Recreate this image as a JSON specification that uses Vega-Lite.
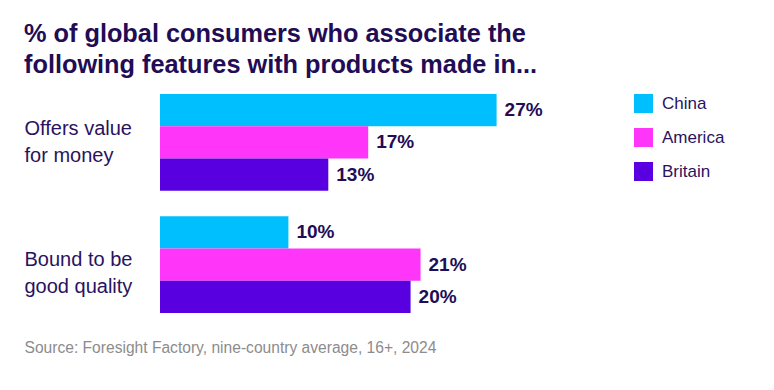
{
  "$schema": "https://vega.github.io/schema/vega-lite/v6.json",
  "autosize": {"type": "none"},
  "width": 374,
  "height": 219,
  "padding": {"left": 160, "top": 94, "right": 240, "bottom": 77},
  "background": "white",
  "config": {
    "font": "Liberation Sans",
    "view": {"stroke": null}
  },
  "title": {
    "text": ["% of global consumers who associate the", "following features with products made in..."],
    "anchor": "start",
    "frame": "group",
    "dx": -136,
    "fontSize": 25.3,
    "fontWeight": "bold",
    "color": "#220c55",
    "lineHeight": 31,
    "offset": 16
  },
  "data": {
    "values": [
      {"feature": "Offers value for money", "country": "China", "value": 27.0, "label": "27%"},
      {"feature": "Offers value for money", "country": "America", "value": 16.7, "label": "17%"},
      {"feature": "Offers value for money", "country": "Britain", "value": 13.5, "label": "13%"},
      {"feature": "Bound to be good quality", "country": "China", "value": 10.3, "label": "10%"},
      {"feature": "Bound to be good quality", "country": "America", "value": 20.9, "label": "21%"},
      {"feature": "Bound to be good quality", "country": "Britain", "value": 20.1, "label": "20%"}
    ]
  },
  "encoding": {
    "y": {
      "field": "feature",
      "type": "nominal",
      "sort": ["Offers value for money", "Bound to be good quality"],
      "scale": {"paddingInner": 0.208, "paddingOuter": 0},
      "axis": {
        "title": null,
        "ticks": false,
        "tickSize": 0,
        "domain": false,
        "labelAlign": "left",
        "labelPadding": 136,
        "labelFontSize": 20,
        "labelColor": "#2a1260",
        "labelLineHeight": 27,
        "labelBaseline": "middle",
        "labelOffset": {"condition": {"test": "datum.value == 'Bound to be good quality'", "value": -5}, "value": -13},
        "labelExpr": "datum.value == 'Offers value for money' ? ['Offers value', 'for money'] : ['Bound to be', 'good quality']"
      }
    },
    "yOffset": {
      "field": "country",
      "type": "nominal",
      "sort": ["China", "America", "Britain"],
      "scale": {"paddingInner": 0, "paddingOuter": 0}
    },
    "x": {
      "field": "value",
      "type": "quantitative",
      "scale": {"domain": [0, 30], "nice": false},
      "axis": {
        "labels": false,
        "ticks": false,
        "domain": false,
        "grid": false,
        "title": "Source: Foresight Factory, nine-country average, 16+, 2024",
        "titleAnchor": "start",
        "titleAlign": "left",
        "titleX": -136,
        "titleY": 39,
        "titleBaseline": "alphabetic",
        "titleFontSize": 15.6,
        "titleFontWeight": "normal",
        "titleColor": "#8c8c8c"
      }
    }
  },
  "layer": [
    {
      "mark": {"type": "bar", "cornerRadius": 0},
      "encoding": {
        "color": {
          "field": "country",
          "type": "nominal",
          "sort": ["China", "America", "Britain"],
          "scale": {"domain": ["China", "America", "Britain"], "range": ["#00bfff", "#ff35fa", "#5800e0"]},
          "legend": {
            "title": null,
            "orient": "none",
            "legendX": 474,
            "legendY": 0,
            "padding": 0,
            "symbolType": "square",
            "symbolSize": 361,
            "symbolStrokeWidth": 0,
            "symbolOpacity": 1,
            "rowPadding": 15,
            "labelOffset": 9,
            "labelFontSize": 17,
            "labelColor": "#2a1260"
          }
        }
      }
    },
    {
      "mark": {"type": "text", "align": "left", "baseline": "middle", "dx": 8, "fontSize": 19, "fontWeight": "bold", "color": "#220c55"},
      "encoding": {
        "text": {"field": "label", "type": "nominal"}
      }
    }
  ]
}
